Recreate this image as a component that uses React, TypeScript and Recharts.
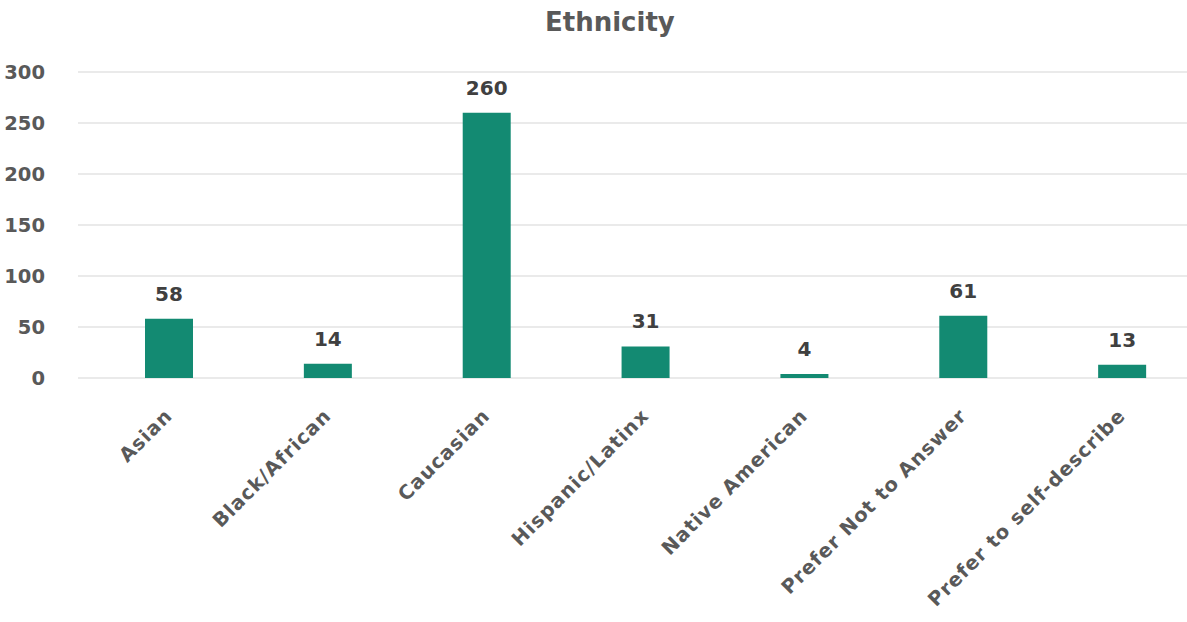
import { Bar, BarChart, CartesianGrid, LabelList, XAxis, YAxis } from "recharts";

const categories = [
  "Asian",
  "Black/African",
  "Caucasian",
  "Hispanic/Latinx",
  "Native American",
  "Prefer Not to Answer",
  "Prefer to self-describe",
];
const counts = [58, 14, 260, 31, 4, 61, 13];
const yTicks = [0, 50, 100, 150, 200, 250, 300];

const rows = categories.map((name, i) => ({ name, count: counts[i] }));

const FONT = "'DejaVu Sans', Verdana, sans-serif";
const AXIS_GREY = "#595959";
const LABEL_GREY = "#404040";
const BAR_GREEN = "#138a72";

// rotated category label, anchored at its end just below the bar
function SlantTick(props: any) {
  const { x, y, payload } = props;
  const ax = x + 4;
  const ay = y + 31;
  return (
    <text
      x={ax}
      y={ay}
      transform={`rotate(-45, ${ax}, ${ay})`}
      textAnchor="end"
      fill={AXIS_GREY}
      fontFamily={FONT}
      fontWeight={700}
      fontSize={19.5}
      letterSpacing={1}
    >
      {payload.value}
    </text>
  );
}

export default function App() {
  return (
    <div
      style={{
        position: "absolute",
        left: 0,
        top: 0,
        width: 1187,
        height: 622,
        overflow: "hidden",
        background: "#fff",
      }}
    >
      <div
        style={{
          position: "absolute",
          top: 7,
          left: 545,
          fontFamily: FONT,
          fontWeight: 700,
          fontSize: 26,
          color: AXIS_GREY,
          whiteSpace: "nowrap",
        }}
      >
        Ethnicity
      </div>
      <BarChart
        width={1215}
        height={622}
        data={rows}
        margin={{ top: 72, right: 13, bottom: 0, left: 0 }}
      >
        <CartesianGrid vertical={false} stroke="#e3e3e3" strokeWidth={1.5} />
        <XAxis
          dataKey="name"
          interval={0}
          axisLine={false}
          tickLine={false}
          padding={{ left: 12, right: 0 }}
          height={244}
          tick={<SlantTick />}
        />
        <YAxis
          domain={[0, 300]}
          ticks={yTicks}
          width={78}
          axisLine={false}
          tickLine={false}
          tickMargin={27}
          tick={{
            fill: AXIS_GREY,
            fontFamily: FONT,
            fontWeight: 700,
            fontSize: 19.5,
          }}
        />
        <Bar
          dataKey="count"
          fill={BAR_GREEN}
          barSize={48}
          isAnimationActive={false}
        >
          <LabelList
            dataKey="count"
            position="top"
            offset={18}
            fill={LABEL_GREY}
            fontFamily={FONT}
            fontWeight={700}
            fontSize={20}
          />
        </Bar>
      </BarChart>
    </div>
  );
}
